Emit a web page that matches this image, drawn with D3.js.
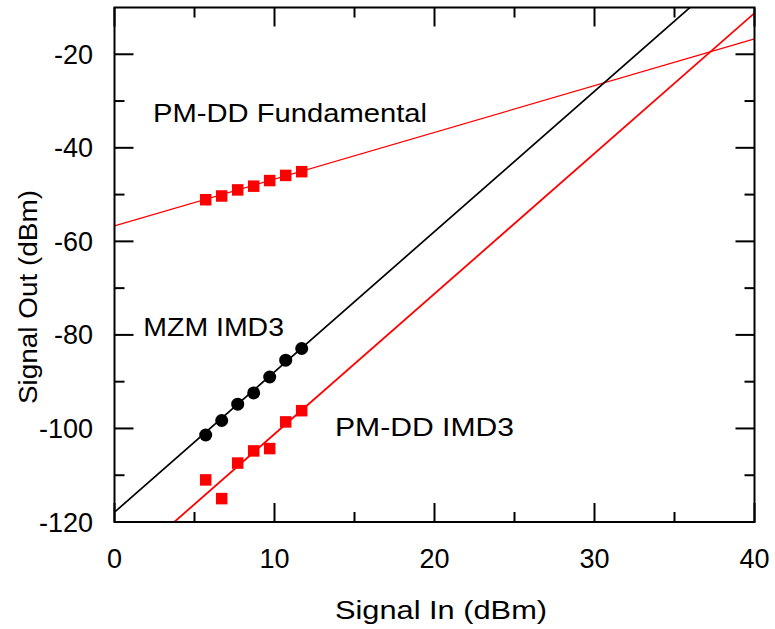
<!DOCTYPE html>
<html>
<head>
<meta charset="utf-8">
<script src="https://cdn.jsdelivr.net/npm/d3@7"></script>
<style>
  html, body { margin: 0; padding: 0; background: #fff; }
  text { font-family: "Liberation Sans", Arial, Helvetica, sans-serif; fill: #000; }
</style>
</head>
<body>
<svg id="chart" width="775" height="629"></svg>
<script>
// ---- data ----
const signalIn = [5.7, 6.7, 7.7, 8.7, 9.7, 10.7, 11.7];
const pmddFundamental = [-51.1, -50.3, -49.0, -48.2, -47.0, -45.9, -45.1];
const mzmIMD3 = [-101.4, -98.3, -94.8, -92.4, -89.0, -85.4, -82.9];
const pmddIMD3 = [-111.0, -115.0, -107.4, -104.8, -104.3, -98.6, -96.2];
// linear fits: slope, intercept (dBm)
const fitNames = ["PM-DD Fundamental", "MZM IMD3", "PM-DD IMD3"];
const fitSlopes = [1, 3, 3];
const fitIntercepts = [-56.7, -117.9, -131.2];
const xMajorTicks = [0, 10, 20, 30, 40];
const xMinorTicks = [5, 15, 25, 35];
const yMajorTicks = [-120, -100, -80, -60, -40, -20];
const yMinorTicks = [-110, -90, -70, -50, -30];

// ---- layout ----
const L = 114.5, R = 754.5, T = 7.5, B = 522;
const x = d3.scaleLinear().domain([0, 40]).range([L, R]);
const y = d3.scaleLinear().domain([-120, -10]).range([B, T]);
const svg = d3.select("#chart");

svg.append("defs").append("clipPath").attr("id", "plotclip")
  .append("rect").attr("x", L).attr("y", T).attr("width", R - L).attr("height", B - T);

// fitted lines
const fitColors = ["#ff0000", "#000000", "#ff0000"];
const fitWidths = [1.3, 1.7, 1.8];
const lineGen = d3.line().x(d => x(d[0])).y(d => y(d[1]));
const gLines = svg.append("g").attr("clip-path", "url(#plotclip)");
fitSlopes.forEach((m, i) => {
  const pts = [0, 40].map(v => [v, m * v + fitIntercepts[i]]);
  gLines.append("path").datum(pts).attr("d", lineGen)
    .attr("fill", "none").attr("stroke", fitColors[i]).attr("stroke-width", fitWidths[i]);
});

// markers
const sq = 11.5;
function squares(vals) {
  svg.append("g").selectAll("rect").data(vals).join("rect")
    .attr("x", (d, i) => x(signalIn[i]) - sq / 2)
    .attr("y", d => y(d) - sq / 2)
    .attr("width", sq).attr("height", sq).attr("fill", "#ff0000");
}
squares(pmddFundamental);
squares(pmddIMD3);
svg.append("g").selectAll("circle").data(mzmIMD3).join("circle")
  .attr("cx", (d, i) => x(signalIn[i])).attr("cy", d => y(d))
  .attr("r", 6.5).attr("fill", "#000");

// frame and ticks
const axisG = svg.append("g").attr("stroke", "#000").attr("stroke-width", 2);
axisG.append("rect").attr("x", L).attr("y", T).attr("width", R - L).attr("height", B - T).attr("fill", "none");
const majLen = 19, minLen = 10;
function xt(vals, len) {
  vals.forEach(v => {
    axisG.append("line").attr("x1", x(v)).attr("x2", x(v)).attr("y1", B).attr("y2", B - len);
    axisG.append("line").attr("x1", x(v)).attr("x2", x(v)).attr("y1", T).attr("y2", T + len);
  });
}
function yt(vals, len) {
  vals.forEach(v => {
    axisG.append("line").attr("y1", y(v)).attr("y2", y(v)).attr("x1", L).attr("x2", L + len);
    axisG.append("line").attr("y1", y(v)).attr("y2", y(v)).attr("x1", R).attr("x2", R - len);
  });
}
xt(xMajorTicks, majLen); xt(xMinorTicks, minLen);
yt(yMajorTicks, majLen); yt(yMinorTicks, minLen);

// tick labels
const fs = 27;
svg.append("g").selectAll("text").data(xMajorTicks).join("text")
  .attr("x", d => x(d)).attr("y", 567.5).attr("text-anchor", "middle")
  .attr("font-size", fs).text(d => d);
svg.append("g").selectAll("text").data(yMajorTicks).join("text")
  .attr("x", 93).attr("y", d => y(d) + 9.5).attr("text-anchor", "end")
  .attr("font-size", fs).text(d => d);

// axis titles
svg.append("text").attr("x", 335).attr("y", 619).attr("font-size", 26)
  .attr("textLength", 212).attr("lengthAdjust", "spacingAndGlyphs").text("Signal In (dBm)");
svg.append("text").attr("transform", "translate(36.5,404) rotate(-90)")
  .attr("x", 0).attr("y", 0).attr("font-size", 26)
  .attr("textLength", 214).attr("lengthAdjust", "spacingAndGlyphs").text("Signal Out (dBm)");

// annotations
const annX = [153, 143.3, 335];
const annY = [122.3, 336, 436];
const annW = [274, 140.7, 179];
fitNames.forEach((n, i) => {
  svg.append("text").attr("x", annX[i]).attr("y", annY[i]).attr("font-size", 26)
    .attr("textLength", annW[i]).attr("lengthAdjust", "spacingAndGlyphs").text(n);
});
</script>
</body>
</html>
